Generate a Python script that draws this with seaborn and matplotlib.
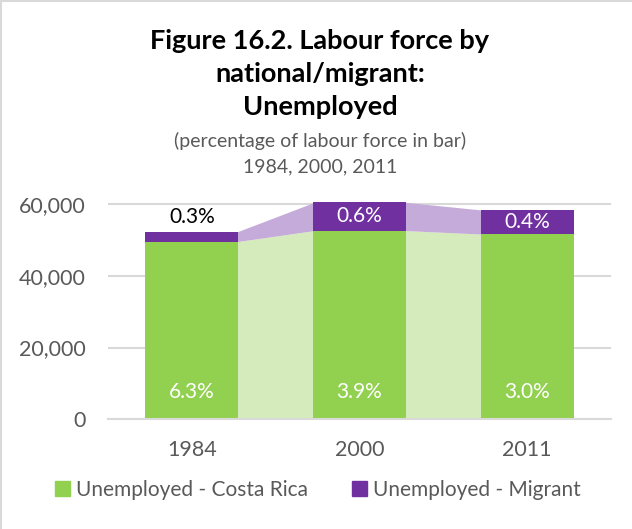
import matplotlib
matplotlib.use("Agg")
import matplotlib.pyplot as plt
import seaborn as sns
import numpy as np
import pandas as pd
from matplotlib.patches import Patch, Rectangle

# Data
years = ["1984", "2000", "2011"]
unemployed_cr = [49500, 52600, 51600]
unemployed_migrant = [2700, 7900, 6700]
pct_cr = ["6.3%", "3.9%", "3.0%"]
pct_migrant = ["0.3%", "0.6%", "0.4%"]
yticks = [0, 20000, 40000, 60000]

GREEN = "#92D050"
PURPLE = "#7030A0"
LIGHT_GREEN = "#D5EBBC"
LIGHT_PURPLE = "#C5ABD9"
GREY_TXT = "#595959"
GRID = "#D9D9D9"

sns.set_theme(style="white")
plt.rcParams["font.family"] = ["Lato", "DejaVu Sans"]

df = pd.DataFrame({
    "year": years,
    "cr": unemployed_cr,
    "total": np.array(unemployed_cr) + np.array(unemployed_migrant),
})

fig = plt.figure(figsize=(6.32, 5.29), dpi=100)
ax = fig.add_axes([108 / 632, 0.2074, 503 / 632, 0.4138])

bar_w = 0.555
sns.barplot(data=df, x="year", y="total", color=PURPLE, saturation=1,
            width=bar_w, ax=ax, zorder=3, linewidth=0, edgecolor="none")
sns.barplot(data=df, x="year", y="cr", color=GREEN, saturation=1,
            width=bar_w, ax=ax, zorder=4, linewidth=0, edgecolor="none")

# Connecting bands between neighbouring bars (tucked slightly under the bars)
tot = df["total"].to_numpy()
cr = df["cr"].to_numpy()
overlap = 0.01
for i in range(len(years) - 1):
    xs = [i + bar_w / 2 - overlap, i + 1 - bar_w / 2 + overlap]
    ax.fill_between(xs, [0, 0], cr[i:i + 2], color=LIGHT_GREEN, lw=0, zorder=2)
    ax.fill_between(xs, cr[i:i + 2], tot[i:i + 2], color=LIGHT_PURPLE, lw=0, zorder=2)

# Value labels
for i in range(len(years)):
    ax.text(i, 7600, pct_cr[i], ha="center", va="center", color="white",
            fontsize=15, zorder=6)
    if i == 0:
        ax.text(i, tot[i] + 4200, pct_migrant[i], ha="center", va="center",
                color="black", fontsize=15, zorder=6)
    else:
        ax.text(i, (cr[i] + tot[i]) / 2, pct_migrant[i], ha="center",
                va="center", color="white", fontsize=15, zorder=6)

ax.set_xlim(-0.5, 2.5)
ax.set_ylim(0, 61000)
ax.set_yticks(yticks)
ax.set_yticklabels([f"{v:,}" for v in yticks])
ax.yaxis.grid(True, color=GRID, lw=1.5, zorder=0)
ax.set_axisbelow(True)
for s in ["top", "right", "left"]:
    ax.spines[s].set_visible(False)
ax.spines["bottom"].set_color(GRID)
ax.spines["bottom"].set_linewidth(1.5)
ax.spines["bottom"].set_zorder(5)
ax.tick_params(axis="both", length=0, labelsize=15.5, labelcolor=GREY_TXT)
ax.tick_params(axis="x", pad=15)
ax.tick_params(axis="y", pad=16)
ax.set_xlabel("")
ax.set_ylabel("")

# Titles
cx = 320 / 632
fig.text(cx, 1 - 41 / 529, "Figure 16.2. Labour force by", ha="center",
         va="center", fontsize=19.5, fontweight="bold", color="black")
fig.text(cx, 1 - 74 / 529, "national/migrant:", ha="center",
         va="center", fontsize=19.5, fontweight="bold", color="black")
fig.text(cx, 1 - 107 / 529, "Unemployed", ha="center",
         va="center", fontsize=19.5, fontweight="bold", color="black")
fig.text(cx, 1 - 141 / 529, "(percentage of labour force in bar)",
         ha="center", va="center", fontsize=14, color=GREY_TXT)
fig.text(cx, 1 - 167 / 529, "1984, 2000, 2011",
         ha="center", va="center", fontsize=14, color=GREY_TXT)

# Legend
handles = [Patch(color=GREEN, label="Unemployed - Costa Rica"),
           Patch(color=PURPLE, label="Unemployed - Migrant")]
fig.legend(handles=handles, loc="center", bbox_to_anchor=(318 / 632, 1 - 490 / 529),
           ncol=2, frameon=False, fontsize=15, handlelength=0.7,
           handleheight=0.7, handletextpad=0.3, columnspacing=2.1,
           labelcolor=GREY_TXT)

# Chart border
fig.add_artist(Rectangle((0.002, -0.01), 1.2, 1.008, transform=fig.transFigure,
                         fill=False, edgecolor=GRID, lw=1.5))

fig.savefig("out.png", dpi=100)
